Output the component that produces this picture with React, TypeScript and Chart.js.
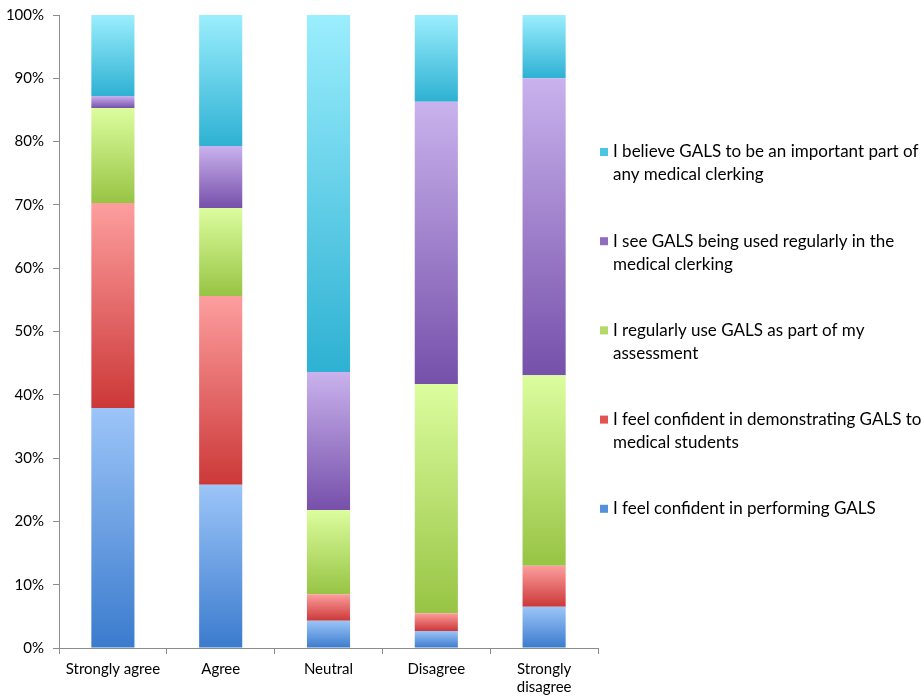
import React, { useEffect, useRef } from "react";
import { Chart, registerables } from "chart.js";

Chart.register(...registerables);

const categories: (string | string[])[] = [
  "Strongly agree",
  "Agree",
  "Neutral",
  "Disagree",
  ["Strongly", "disagree"],
];

// series, bottom to top of each stack
const seriesNames = [
  "I feel confident in performing GALS",
  "I feel confident in demonstrating GALS to medical students",
  "I regularly use GALS as part of my assessment",
  "I see GALS being used regularly in the medical clerking",
  "I believe GALS to be an important part of any medical clerking",
];

const performingGals = [37.9, 25.8, 4.3, 2.7, 6.5];
const demonstratingGals = [32.4, 29.8, 4.2, 2.8, 6.5];
const regularlyUseGals = [15.0, 13.9, 13.3, 36.2, 30.1];
const seeGalsUsed = [1.9, 9.8, 21.8, 44.6, 46.9];
const believeImportant = [12.8, 20.7, 56.4, 13.7, 10.0];

const yTickValues = [0, 10, 20, 30, 40, 50, 60, 70, 80, 90, 100];

const palette = [
  { top: "#9cc5f8", bottom: "#3b7bcd", solid: "#5590db" },
  { top: "#fd9e9e", bottom: "#cc3838", solid: "#e05454" },
  { top: "#dcfd9e", bottom: "#97c444", solid: "#b4d96a" },
  { top: "#c9b2ed", bottom: "#7650aa", solid: "#8f6cc0" },
  { top: "#9beefd", bottom: "#2eb1d3", solid: "#4bc6e2" },
];

const FONT = "Lato";

function makeFill(top: string, bottom: string) {
  return (ctx: any) => {
    const chart = ctx.chart;
    const y = chart.scales && chart.scales.y;
    if (!y || ctx.type !== "data") return bottom;
    let start = 0;
    for (let d = 0; d < ctx.datasetIndex; d++) {
      start += Number(chart.data.datasets[d].data[ctx.dataIndex]) || 0;
    }
    const end = start + (Number(ctx.raw) || 0);
    const p0 = y.getPixelForValue(start);
    const p1 = y.getPixelForValue(end);
    if (!isFinite(p0) || !isFinite(p1) || p0 === p1) return bottom;
    const g = chart.ctx.createLinearGradient(0, p1, 0, p0);
    g.addColorStop(0, top);
    g.addColorStop(1, bottom);
    return g;
  };
}

function wrapText(ctx: CanvasRenderingContext2D, text: string, maxWidth: number) {
  const words = text.split(" ");
  const lines: string[] = [];
  let cur = "";
  for (const w of words) {
    const test = cur ? cur + " " + w : w;
    if (ctx.measureText(test).width > maxWidth && cur) {
      lines.push(cur);
      cur = w;
    } else {
      cur = test;
    }
  }
  if (cur) lines.push(cur);
  return lines;
}

const sideLegend = {
  id: "sideLegend",
  afterDraw(chart: any) {
    const ctx: CanvasRenderingContext2D = chart.ctx;
    const area = chart.chartArea;
    const boxX = 600;
    const textX = 613;
    const maxW = chart.width - textX;
    const lineH = 23;
    const itemGap = 89.2;
    let y = area.top + 137;
    ctx.save();
    ctx.font = `17px ${FONT}`;
    ctx.textBaseline = "middle";
    ctx.textAlign = "left";
    const ds = chart.data.datasets;
    for (let i = ds.length - 1; i >= 0; i--) {
      const lines = wrapText(ctx, ds[i].label, maxW);
      ctx.fillStyle = palette[i].solid;
      ctx.fillRect(boxX, y - 4, 8, 8);
      ctx.fillStyle = "#000";
      lines.forEach((l, k) => ctx.fillText(l, textX, y + k * lineH));
      y += itemGap;
    }
    ctx.restore();
  },
};

export default function App() {
  const ref = useRef<HTMLCanvasElement | null>(null);

  useEffect(() => {
    document.body.style.margin = "0";
    const seriesData = [
      performingGals,
      demonstratingGals,
      regularlyUseGals,
      seeGalsUsed,
      believeImportant,
    ];
    const chart = new Chart(ref.current as HTMLCanvasElement, {
      type: "bar",
      data: {
        labels: categories as any,
        datasets: seriesData.map((d, i) => ({
          label: seriesNames[i],
          data: d,
          backgroundColor: makeFill(palette[i].top, palette[i].bottom) as any,
          borderWidth: 0,
          barPercentage: 0.4,
          categoryPercentage: 1,
        })),
      },
      options: {
        animation: false,
        responsive: true,
        maintainAspectRatio: false,
        layout: { padding: { top: 0, right: 326, left: 0, bottom: 0 } },
        plugins: {
          legend: { display: false },
          tooltip: { enabled: false },
        },
        scales: {
          x: {
            stacked: true,
            grid: {
              offset: true,
              drawOnChartArea: false,
              drawTicks: true,
              tickLength: 6,
              color: "#8c8c8c",
            },
            border: { color: "#8c8c8c" },
            ticks: {
              font: { family: FONT, size: 15 },
              color: "#000",
              padding: 6,
              maxRotation: 0,
              autoSkip: false,
            },
            afterFit: (s: any) => {
              s.height = 48;
            },
          },
          y: {
            stacked: true,
            min: 0,
            max: 100,
            afterBuildTicks: (s: any) => {
              s.ticks = yTickValues.map((v) => ({ value: v }));
            },
            ticks: {
              font: { family: FONT, size: 15 },
              color: "#000",
              padding: 9,
              callback: (v: any) => v + "%",
            },
            grid: {
              drawOnChartArea: false,
              drawTicks: true,
              tickLength: 6,
              color: "#8c8c8c",
            },
            border: { color: "#8c8c8c" },
            afterFit: (s: any) => {
              s.width = 59;
              s.paddingTop = 15;
              s.paddingBottom = 0;
            },
          },
        },
      },
      plugins: [sideLegend],
    });
    return () => chart.destroy();
  }, []);

  return (
    <div style={{ width: 924, height: 696, position: "relative" }}>
      <canvas ref={ref} />
    </div>
  );
}
